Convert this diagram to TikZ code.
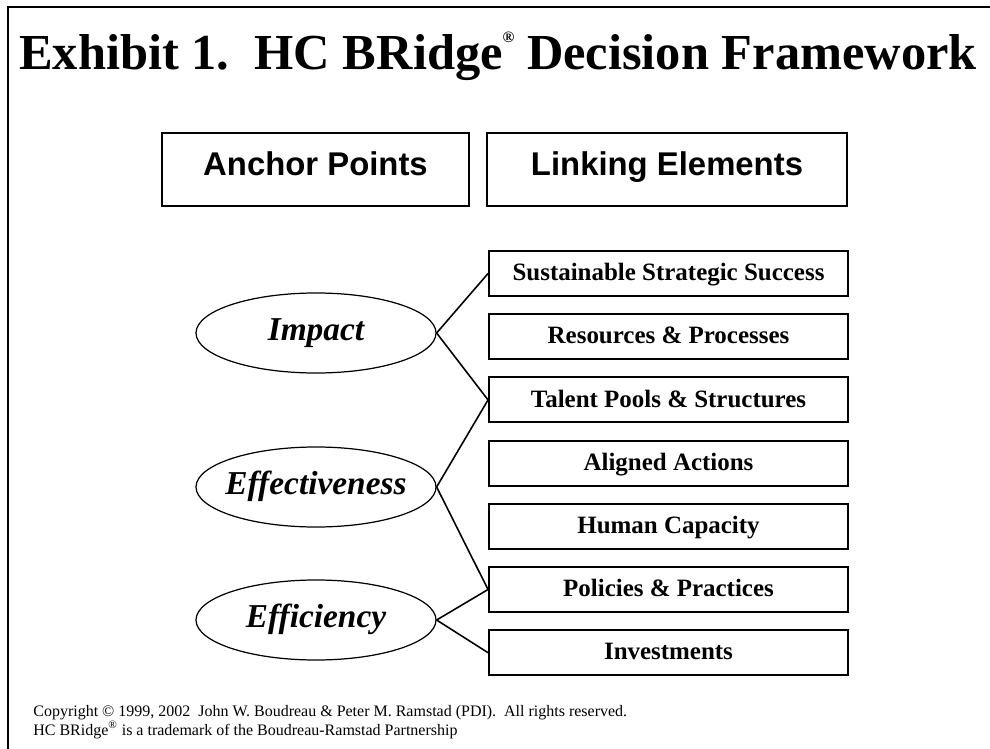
\documentclass[tikz,border=0pt]{standalone}
\usepackage{fontspec}
\setmainfont{Liberation Serif}
\setsansfont{Liberation Sans}
\usetikzlibrary{shapes.geometric}

\begin{document}
\begin{tikzpicture}[
  headbox/.style={draw, line width=1.1pt, minimum width=#1, minimum height=1.46cm, inner sep=0pt, text height=0.716em, text depth=0pt, font=\sffamily\bfseries\fontsize{18.7}{20}\selectfont},
  elembox/.style={draw, line width=1.1pt, minimum width=7.18cm, minimum height=0.9cm, inner sep=0pt, text height=0.82em, text depth=0pt, font=\bfseries\fontsize{14.2}{16}\selectfont},
  anchoroval/.style={draw, ellipse, line width=0.7pt, minimum width=4.8cm, minimum height=1.6cm, inner xsep=-1cm, inner ysep=0pt, text height=0.9em, text depth=0pt, font=\bfseries\itshape\fontsize{19}{20}\selectfont},
  link/.style={line width=0.9pt}
]
\useasboundingbox (0,0) rectangle (19.8,-14.98);
\draw[line width=1.7pt] (19.8,-0.14) -- (0.16,-0.14) -- (0.16,-14.98);

\node[anchor=base, inner sep=0pt, font=\bfseries\fontsize{28.7}{30}\selectfont] (title) at (9.96,-1.40)
  {Exhibit 1.\ \ HC BRidge\raisebox{0.55em}{\fontsize{9}{9}\selectfont ®} Decision Framework};

\node[headbox=6.14cm] (anchors) at (6.31,-3.39) {Anchor Points};
\node[headbox=7.2cm] (linking) at (13.34,-3.39) {Linking Elements};

\node[elembox] (success) at (13.37,-5.47) {Sustainable Strategic Success};
\node[elembox] (resources) at (13.37,-6.734) {Resources \& Processes};
\node[elembox] (talent) at (13.37,-7.998) {Talent Pools \& Structures};
\node[elembox] (actions) at (13.37,-9.262) {Aligned Actions};
\node[elembox] (capacity) at (13.37,-10.526) {Human Capacity};
\node[elembox] (policies) at (13.37,-11.79) {Policies \& Practices};
\node[elembox] (invest) at (13.37,-13.054) {Investments};

\node[anchoroval] (impact) at (6.32,-6.66) {Impact};
\node[anchoroval] (effect) at (6.32,-9.74) {Effectiveness};
\node[anchoroval] (effic) at (6.32,-12.40) {Efficiency};

\path[draw,link] (impact.east) -- (success.west);
\path[draw,link] (impact.east) -- (talent.west);
\path[draw,link] (effect.east) -- (talent.west);
\path[draw,link] (effect.east) -- (policies.west);
\path[draw,link] (effic.east) -- (policies.west);
\path[draw,link] (effic.east) -- (invest.west);

\node[anchor=base west, inner sep=0pt, font=\fontsize{9.1}{10}\selectfont] (copy1) at (0.66,-14.32)
  {Copyright © 1999, 2002\ \ John W. Boudreau \& Peter M. Ramstad (PDI).\ \ All rights reserved.};
\node[anchor=base west, inner sep=0pt, font=\fontsize{9.1}{10}\selectfont] (copy2) at (0.66,-14.70)
  {HC BRidge\textsuperscript{®} is a trademark of the Boudreau-Ramstad Partnership};
\end{tikzpicture}
\end{document}
